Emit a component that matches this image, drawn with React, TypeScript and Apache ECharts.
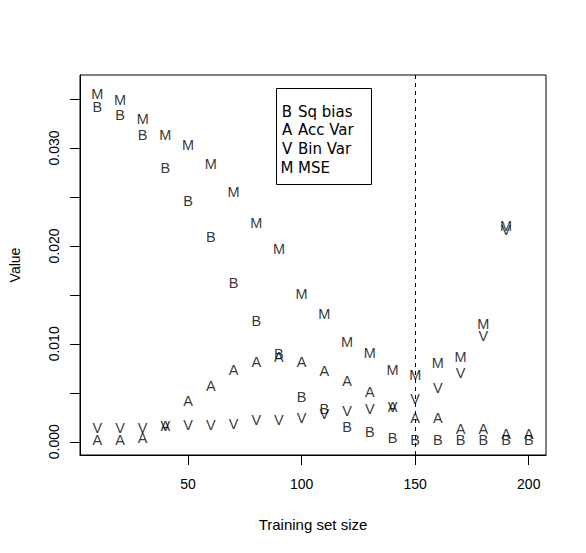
import React, { useEffect, useRef } from "react";
import * as echarts from "echarts";

const xValues = [10, 20, 30, 40, 50, 60, 70, 80, 90, 100, 110, 120, 130, 140, 150, 160, 170, 180, 190, 200];
const sqBias = [0.0342, 0.0334, 0.0313, 0.028, 0.0246, 0.0209, 0.0162, 0.0123, 0.009, 0.0046, 0.0033, 0.0015, 0.001, 0.0004, 0.0002, 0.0002, 0.0002, 0.0002, 0.0002, 0.0002];
const accVar = [0.0002, 0.0002, 0.0004, 0.0016, 0.0042, 0.0057, 0.0073, 0.0081, 0.0087, 0.0081, 0.0072, 0.0062, 0.0051, 0.0036, 0.0024, 0.0024, 0.0013, 0.0013, 0.0008, 0.0008];
const binVar = [0.0014, 0.0014, 0.0014, 0.0016, 0.0017, 0.0017, 0.0018, 0.0022, 0.0022, 0.0024, 0.0028, 0.0031, 0.0033, 0.0036, 0.0044, 0.0055, 0.0070, 0.0108, 0.0216, null];
const mse = [0.0355, 0.0349, 0.033, 0.0313, 0.0303, 0.0284, 0.0255, 0.0223, 0.0197, 0.0151, 0.013, 0.0102, 0.0091, 0.0073, 0.0068, 0.008, 0.0087, 0.012, 0.022, null];

const seriesLetters = ["B", "A", "V", "M"];
const seriesNames = ["Sq bias", "Acc Var", "Bin Var", "MSE"];
const xTicks = [50, 100, 150, 200];
const yTicks = [0, 0.005, 0.01, 0.015, 0.02, 0.025, 0.03, 0.035];
const yLabelValues = [0, 0.01, 0.02, 0.03];
const dashedAt = 150;

const FONT = "'Liberation Sans', Arial, sans-serif";
const WIDE_FONT = "'DejaVu Sans', 'Liberation Sans', sans-serif";

function pairs(values: (number | null)[]) {
  const out: [number, number][] = [];
  values.forEach((v, i) => {
    if (v !== null) out.push([xValues[i], v]);
  });
  return out;
}

export default function App() {
  const ref = useRef<HTMLDivElement>(null);
  useEffect(() => {
    if (!ref.current) return;
    const chart = echarts.init(ref.current, null, { renderer: "svg" });
    const all = [sqBias, accVar, binVar, mse];
    const series: any[] = all.map((vals, i) => ({
      type: "scatter",
      name: seriesNames[i],
      data: pairs(vals),
      symbolSize: 1,
      itemStyle: { color: "rgba(0,0,0,0)" },
      label: {
        show: true,
        position: "inside",
        formatter: seriesLetters[i],
        color: "#000",
        fontSize: 14.5,
        fontFamily: FONT,
      },
      emphasis: { disabled: true },
      z: 3,
    }));
    series[0].markLine = {
      silent: true,
      symbol: "none",
      label: { show: false },
      lineStyle: { color: "#000", type: [4, 4], width: 1 },
      data: [{ xAxis: dashedAt }],
    };
    const legendRows = [111.5, 130.2, 148.9, 167.6];
    const option: any = {
      animation: false,
      backgroundColor: "#fff",
      textStyle: { fontFamily: FONT },
      grid: {
        left: 79,
        top: 75,
        width: 467,
        height: 380,
        show: true,
        borderColor: "#000",
        borderWidth: 1,
        backgroundColor: "transparent",
      },
      xAxis: {
        type: "value",
        min: 2.4,
        max: 207.6,
        name: "Training set size",
        nameLocation: "middle",
        nameGap: 62,
        nameTextStyle: { color: "#000", fontSize: 15, fontFamily: FONT },
        axisLine: { show: true, onZero: false, lineStyle: { color: "#000", width: 1 } },
        splitLine: { show: false },
        axisTick: {
          show: true,
          inside: false,
          length: 10,
          customValues: xTicks,
          lineStyle: { color: "#000", width: 1 },
        },
        axisLabel: {
          customValues: xTicks,
          color: "#000",
          fontSize: 14,
          fontFamily: FONT,
          margin: 22,
        },
      },
      yAxis: {
        type: "value",
        min: -0.00135,
        max: 0.03745,
        name: "Value",
        nameLocation: "middle",
        nameRotate: 90,
        nameGap: 58,
        nameTextStyle: { color: "#000", fontSize: 14, fontFamily: FONT },
        axisLine: { show: true, onZero: false, lineStyle: { color: "#000", width: 1 } },
        splitLine: { show: false },
        axisTick: {
          show: true,
          inside: false,
          length: 10,
          customValues: yTicks,
          lineStyle: { color: "#000", width: 1 },
        },
        axisLabel: {
          customValues: yLabelValues,
          rotate: 90,
          color: "#000",
          fontSize: 14,
          fontFamily: FONT,
          margin: 19,
          formatter: (v: number) => v.toFixed(3),
        },
      },
      graphic: [
        {
          type: "rect",
          shape: { x: 276.5, y: 88.5, width: 95, height: 96 },
          style: { fill: "#fff", stroke: "#000", lineWidth: 1 },
          z: 10,
        },
        ...seriesLetters.map((l, i) => ({
          type: "text",
          x: 287,
          y: legendRows[i],
          style: {
            text: l,
            fill: "#000",
            fontSize: 15,
            fontFamily: WIDE_FONT,
            align: "center",
            verticalAlign: "middle",
          },
          z: 11,
        })),
        ...seriesNames.map((n, i) => ({
          type: "text",
          x: 298,
          y: legendRows[i],
          style: {
            text: n,
            fill: "#000",
            fontSize: 15,
            fontFamily: WIDE_FONT,
            align: "left",
            verticalAlign: "middle",
          },
          z: 11,
        })),
      ],
      series,
    };
    chart.setOption(option);
    return () => chart.dispose();
  }, []);
  return (
    <div
      ref={ref}
      style={{ position: "absolute", left: 0, top: 0, width: 586, height: 553 }}
    />
  );
}
